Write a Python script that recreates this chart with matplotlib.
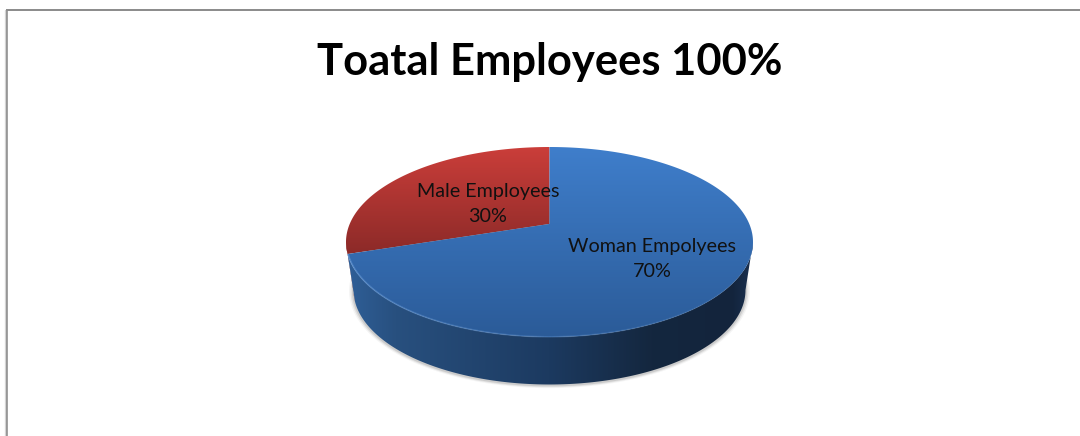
import matplotlib
matplotlib.use("Agg")
import matplotlib.pyplot as plt
import numpy as np
from matplotlib.collections import LineCollection
from matplotlib.colors import LinearSegmentedColormap, to_rgb
from matplotlib.patches import Polygon

plt.rcParams['font.family'] = ['Lato', 'DejaVu Sans']

title = "Toatal Employees 100%"
categories = ["Male Employees", "Woman Empolyees"]
shares = [30, 70]
label_spots = [(488, 204), (652, 259)]

# top face of the disc on the page, and where the tilted centre lands
CX, CY, RX, RY = 549.5, 242, 203.5, 95
TILT = 0.19
# rim of the underside
LOW_CY, LOW_RX, LOW_RY = 290, 196, 94.5


def project(angle_deg):
    """Rim points of a tilted disc; straight lines stay straight under this map."""
    t = np.radians(angle_deg)
    u, v = np.cos(t), np.sin(t)
    d = 1 + TILT * v
    return u * np.sqrt(1 - TILT ** 2) / d, (v + TILT) / d


def to_page(u, v, cy=CY, rx=RX, ry=RY):
    return CX + np.asarray(u) * rx, cy - np.asarray(v) * ry


def gradient_fill(ax, outline, stops, extent, horizontal=False, zorder=2):
    cmap = LinearSegmentedColormap.from_list("g", stops)
    ramp = np.linspace(0, 1, 256)
    ramp = ramp[None, :] if horizontal else ramp[:, None]
    im = ax.imshow(ramp, cmap=cmap, extent=extent, aspect="auto", zorder=zorder,
                   interpolation="bilinear", vmin=0, vmax=1)
    patch = Polygon(outline, closed=True, transform=ax.transData, fc="none", ec="none")
    ax.add_patch(patch)
    im.set_clip_path(patch)


fig = plt.figure(figsize=(10.8, 4.36), dpi=100, facecolor="white")
ax = fig.add_axes([0, 0, 1, 1])
ax.set_xlim(0, 1080)
ax.set_ylim(436, 0)
ax.axis("off")

# chart frame, only top and left fall inside the canvas
ax.plot([1080, 6], [10.5, 10.5], color="#8a8a8a", lw=1.4, solid_capstyle="butt")
ax.plot([6.2, 6.2], [10, 436], color="#8f8f8f", lw=1.9, solid_capstyle="butt")
ax.plot([4.6, 4.6], [10, 436], color="#d4d4d4", lw=0.9, solid_capstyle="butt")

ax.text(549.5, 62, title, ha="center", va="center", fontsize=31.3, fontweight="bold", color="black")

# soft shadow below the wall
t = np.linspace(0, 360, 240)
for grow, alpha in [(4.5, 0.04), (3, 0.07), (1.5, 0.1)]:
    sx = CX + (LOW_RX + grow) * np.cos(np.radians(t))
    sy = LOW_CY + 1 + (LOW_RY + grow * 0.6) * np.sin(np.radians(t))
    ax.fill(sx, sy, color="black", alpha=alpha, lw=0, zorder=1)

# slice angles run counter-clockwise from twelve o'clock
edges = 90 + np.cumsum([0] + shares) * 360 / sum(shares)
seam = project(edges[1])
seam_angle = np.degrees(np.arctan2(seam[1], seam[0])) % 360

# side wall: male sliver on the far left, the rest woman
arc = np.linspace(180, seam_angle, 20)
tx, ty = to_page(np.cos(np.radians(arc)), np.sin(np.radians(arc)))
bx, by = to_page(np.cos(np.radians(arc)), np.sin(np.radians(arc)), LOW_CY, LOW_RX, LOW_RY)
ax.fill(np.r_[tx, bx[::-1]], np.r_[ty, by[::-1]], color="#7d2624", lw=0, zorder=2)

arc = np.linspace(seam_angle, 360, 200)
tx, ty = to_page(np.cos(np.radians(arc)), np.sin(np.radians(arc)))
bx, by = to_page(np.cos(np.radians(arc)), np.sin(np.radians(arc)), LOW_CY, LOW_RX, LOW_RY)
wall = np.column_stack([np.r_[tx, bx[::-1]], np.r_[ty, by[::-1]]])
gradient_fill(ax, wall, [(0, "#2f5f98"), (0.12, "#28507f"), (0.5, "#1c3a60"),
                         (0.75, "#14273f"), (0.95, "#13243c"), (1, "#1a3050")],
              (CX - RX, CX + RX, by.max() + 1, CY - 1), horizontal=True)

# top faces
palette = [[(0, "#cb3e3a"), (1, "#8c2a28")], [(0, "#3f7ecb"), (1, "#2b5b98")]]
for i in range(len(shares)):
    a = np.linspace(edges[i], edges[i + 1], 240)
    u, v = project(a)
    px, py = to_page(np.r_[0.0, u], np.r_[TILT, v])
    face = np.column_stack([px, py])
    # blue runs the full face height, red stops at the seam
    low = CY + RY if i == 1 else py.max()
    gradient_fill(ax, face, palette[i], (CX - RX, CX + RX, low, CY - RY), zorder=3)

# lit bevel along the front of the rim, fading to the right
arc = np.linspace(seam_angle, 345, 160)
u, v = np.cos(np.radians(arc)), np.sin(np.radians(arc))
rx, ry = to_page(u * 0.998, v * 0.998)
pts = np.column_stack([rx, ry])
segs = np.stack([pts[:-1], pts[1:]], axis=1)
fade = np.clip(1 - (arc[:-1] - seam_angle) / (345 - seam_angle), 0, 1)
cols = np.zeros((len(segs), 4))
cols[:, :3] = to_rgb("#6ea3e2")
cols[:, 3] = 0.5 * fade ** 0.8
ax.add_collection(LineCollection(segs, colors=cols, linewidths=1.2, zorder=4))

for name, share, (lx, ly) in zip(categories, shares, label_spots):
    ax.text(lx, ly, f"{name}\n{share}%", ha="center", va="center", fontsize=14.2,
            linespacing=1.55, color="#111111", zorder=5)

fig.savefig("out.png", dpi=100, facecolor="white")
